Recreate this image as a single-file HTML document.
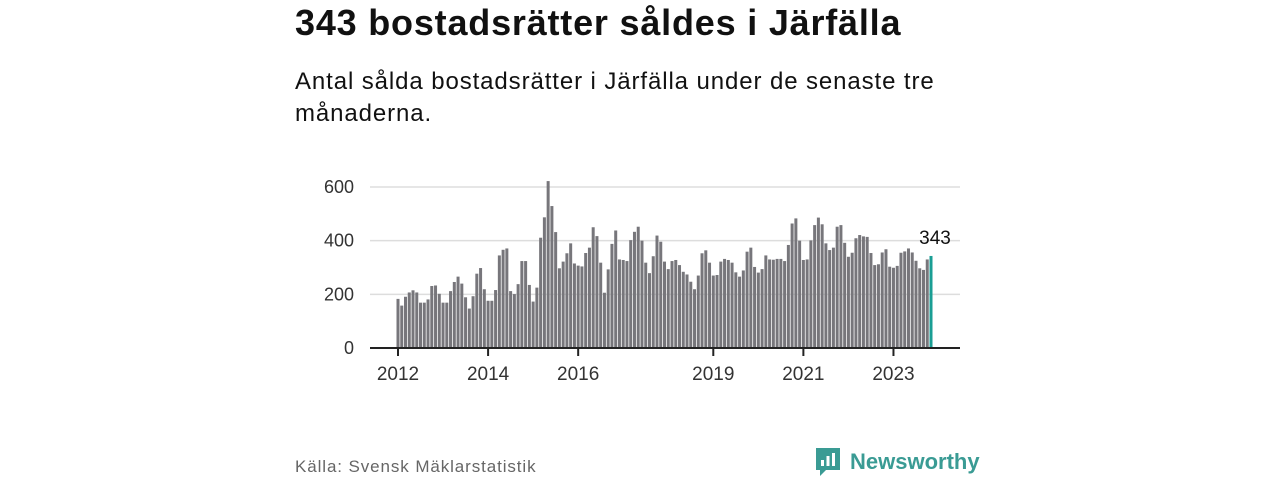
<!DOCTYPE html>
<html><head><meta charset="utf-8"><style>
body{margin:0;width:1280px;height:480px;background:#fff;font-family:"Liberation Sans","DejaVu Sans",sans-serif;overflow:hidden;position:relative}
.title{position:absolute;left:295px;top:2px;font-size:36px;font-weight:bold;color:#111;letter-spacing:0.8px}
.sub{position:absolute;left:295px;top:66px;font-size:24px;line-height:32px;color:#111;width:680px;letter-spacing:0.9px}
.src{position:absolute;left:295px;top:457px;font-size:17px;color:#666;letter-spacing:0.9px}
.logo{position:absolute;left:814px;top:446px;display:flex;align-items:center;gap:8px;color:#3a9b94;font-size:22px;font-weight:bold}
</style></head><body>
<div class="title">343 bostadsrätter såldes i Järfälla</div>
<div class="sub">Antal sålda bostadsrätter i Järfälla under de senaste tre månaderna.</div>
<svg id="chart" width="1280" height="480" style="position:absolute;left:0;top:0"></svg>
<div class="src">Källa: Svensk Mäklarstatistik</div>
<div class="logo">
<svg width="28" height="32" viewBox="0 0 28 32"><path d="M2 2h24v22H12l-6 6v-6H2z" fill="#3a9b94"/><rect x="7" y="14" width="3" height="6" fill="#fff"/><rect x="12.5" y="10" width="3" height="10" fill="#fff"/><rect x="18" y="7" width="3" height="13" fill="#fff"/></svg>
<span>Newsworthy</span></div>
<script>
const values=[183,158,191,207,215,207,169,169,181,231,233,202,169,169,212,246,266,240,189,147,193,277,298,219,176,176,216,345,366,371,212,201,238,324,324,
235,173,225,411,487,622,529,432,297,322,353,390,315,307,304,354,374,450,417,318,206,293,388,438,330,328,324,402,433,452,400,318,279,342,419,396,
322,294,324,328,309,284,274,247,219,270,353,364,318,270,272,322,332,328,318,282,266,289,359,374,302,281,294,345,330,329,332,332,324,384,464,483,400,
328,330,401,458,486,461,390,365,374,452,458,392,340,355,409,421,416,414,354,309,312,356,368,303,299,306,355,360,371,356,325,297,291,330,343];
const yTicks=[0,200,400,600];
const xTickLabels=["2012","2014","2016","2019","2021","2023"];
const xTickMonths=[0,24,48,84,108,132];
const svg=document.getElementById('chart');
const NS='http://www.w3.org/2000/svg';
const x0=398,x1=931,yBase=348,yTop=187,yMax=600;
const n=values.length;
const pitch=(x1-x0)/(n-1);
const xs=i=>x0+i*pitch;
const ys=v=>yBase-(v/yMax)*(yBase-yTop);
function mk(t,a){const e=document.createElementNS(NS,t);for(const k in a)e.setAttribute(k,a[k]);svg.appendChild(e);return e;}
yTicks.forEach(v=>{
 if(v>0){const g=mk('line',{x1:370,x2:960,y1:ys(v),y2:ys(v),stroke:'#ddd','stroke-width':1.5});
 
 }
 const t=mk('text',{x:354,y:ys(v)+6,'text-anchor':'end','font-size':18,fill:'#333','font-family':'Liberation Sans, sans-serif'});
 t.textContent=v;
 
 
});
values.forEach((v,i)=>{
 const last=i===n-1;
 const r=mk('rect',{x:xs(i)-1.5,y:ys(v),width:3,height:yBase-ys(v),fill:last?'#1a9e94':'#77767b'});
 
 
});
const lbl=mk('text',{x:xs(n-1)+4,y:ys(values[n-1])-12,'text-anchor':'middle','font-size':19,fill:'#111','font-family':'Liberation Sans, sans-serif'});
lbl.textContent=values[n-1];


const ax=mk('line',{x1:370,x2:960,y1:yBase,y2:yBase,stroke:'#222','stroke-width':2});


xTickMonths.forEach((m,k)=>{
 const tk=mk('line',{x1:xs(m),x2:xs(m),y1:yBase,y2:yBase+8,stroke:'#222','stroke-width':2});
 
 
 const t=mk('text',{x:xs(m),y:yBase+32,'text-anchor':'middle','font-size':19,fill:'#333','font-family':'Liberation Sans, sans-serif'});
 t.textContent=xTickLabels[k];
 
 
});
</script>
</body></html>
